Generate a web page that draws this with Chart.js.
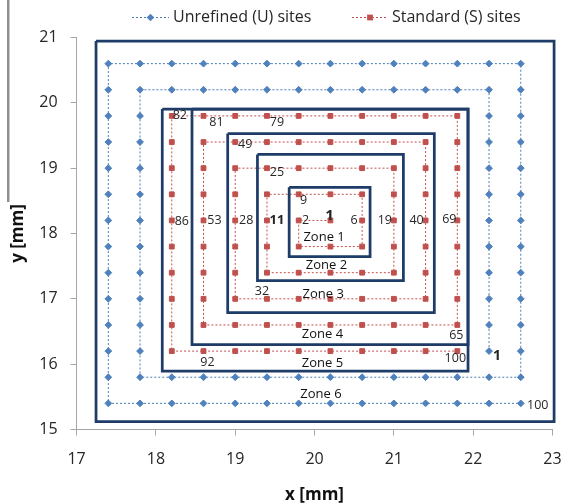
<!DOCTYPE html>
<html>
<head>
<meta charset="utf-8">
<script src="https://cdn.jsdelivr.net/npm/chart.js@4.4.1/dist/chart.umd.min.js"></script>
<style>
  html, body { margin: 0; padding: 0; background: #fff; }
  #c { display: block; }
</style>
</head>
<body>
<canvas id="c" width="563" height="504"></canvas>
<script>
// Standard (S) sites, numbered 1..100 outward along the spiral [mm]
const sX = [
  20.2, 19.8, 19.8, 20.2, 20.6, 20.6, 20.6, 20.2, 19.8, 19.4,
  19.4, 19.4, 19.4, 19.8, 20.2, 20.6, 21.0, 21.0, 21.0, 21.0,
  21.0, 20.6, 20.2, 19.8, 19.4, 19.0, 19.0, 19.0, 19.0, 19.0,
  19.0, 19.4, 19.8, 20.2, 20.6, 21.0, 21.4, 21.4, 21.4, 21.4,
  21.4, 21.4, 21.4, 21.0, 20.6, 20.2, 19.8, 19.4, 19.0, 18.6,
  18.6, 18.6, 18.6, 18.6, 18.6, 18.6, 18.6, 19.0, 19.4, 19.8,
  20.2, 20.6, 21.0, 21.4, 21.8, 21.8, 21.8, 21.8, 21.8, 21.8,
  21.8, 21.8, 21.8, 21.4, 21.0, 20.6, 20.2, 19.8, 19.4, 19.0,
  18.6, 18.2, 18.2, 18.2, 18.2, 18.2, 18.2, 18.2, 18.2, 18.2,
  18.2, 18.6, 19.0, 19.4, 19.8, 20.2, 20.6, 21.0, 21.4, 21.8
];
const sY = [
  18.2, 18.2, 17.8, 17.8, 17.8, 18.2, 18.6, 18.6, 18.6, 18.6,
  18.2, 17.8, 17.4, 17.4, 17.4, 17.4, 17.4, 17.8, 18.2, 18.6,
  19.0, 19.0, 19.0, 19.0, 19.0, 19.0, 18.6, 18.2, 17.8, 17.4,
  17.0, 17.0, 17.0, 17.0, 17.0, 17.0, 17.0, 17.4, 17.8, 18.2,
  18.6, 19.0, 19.4, 19.4, 19.4, 19.4, 19.4, 19.4, 19.4, 19.4,
  19.0, 18.6, 18.2, 17.8, 17.4, 17.0, 16.6, 16.6, 16.6, 16.6,
  16.6, 16.6, 16.6, 16.6, 16.6, 17.0, 17.4, 17.8, 18.2, 18.6,
  19.0, 19.4, 19.8, 19.8, 19.8, 19.8, 19.8, 19.8, 19.8, 19.8,
  19.8, 19.8, 19.4, 19.0, 18.6, 18.2, 17.8, 17.4, 17.0, 16.6,
  16.2, 16.2, 16.2, 16.2, 16.2, 16.2, 16.2, 16.2, 16.2, 16.2
];

// Unrefined (U) sites on the two outer rings [mm]
const uX = [
  22.2, 22.2, 22.2, 22.2, 22.2, 22.2, 22.2, 22.2, 22.2, 22.2, 22.2,
  21.8, 21.4, 21.0, 20.6, 20.2, 19.8, 19.4, 19.0, 18.6, 18.2, 17.8,
  17.8, 17.8, 17.8, 17.8, 17.8, 17.8, 17.8, 17.8, 17.8, 17.8, 17.8,
  18.2, 18.6, 19.0, 19.4, 19.8, 20.2, 20.6, 21.0, 21.4, 21.8, 22.2,
  22.6,
  22.6, 22.6, 22.6, 22.6, 22.6, 22.6, 22.6, 22.6, 22.6, 22.6, 22.6, 22.6,
  22.2, 21.8, 21.4, 21.0, 20.6, 20.2, 19.8, 19.4, 19.0, 18.6, 18.2, 17.8, 17.4,
  17.4, 17.4, 17.4, 17.4, 17.4, 17.4, 17.4, 17.4, 17.4, 17.4, 17.4, 17.4, 17.4,
  17.8, 18.2, 18.6, 19.0, 19.4, 19.8, 20.2, 20.6, 21.0, 21.4, 21.8, 22.2, 22.6
];
const uY = [
  16.2, 16.6, 17.0, 17.4, 17.8, 18.2, 18.6, 19.0, 19.4, 19.8, 20.2,
  20.2, 20.2, 20.2, 20.2, 20.2, 20.2, 20.2, 20.2, 20.2, 20.2, 20.2,
  19.8, 19.4, 19.0, 18.6, 18.2, 17.8, 17.4, 17.0, 16.6, 16.2, 15.8,
  15.8, 15.8, 15.8, 15.8, 15.8, 15.8, 15.8, 15.8, 15.8, 15.8, 15.8,
  15.8,
  16.2, 16.6, 17.0, 17.4, 17.8, 18.2, 18.6, 19.0, 19.4, 19.8, 20.2, 20.6,
  20.6, 20.6, 20.6, 20.6, 20.6, 20.6, 20.6, 20.6, 20.6, 20.6, 20.6, 20.6, 20.6,
  20.2, 19.8, 19.4, 19.0, 18.6, 18.2, 17.8, 17.4, 17.0, 16.6, 16.2, 15.8, 15.4,
  15.4, 15.4, 15.4, 15.4, 15.4, 15.4, 15.4, 15.4, 15.4, 15.4, 15.4, 15.4, 15.4
];

// axis ticks [mm]
const xTicks = [17, 18, 19, 20, 21, 22, 23];
const yTicks = [15, 16, 17, 18, 19, 20, 21];

// zone outlines [mm]
const zoneNames  = ['Zone 1', 'Zone 2', 'Zone 3', 'Zone 4', 'Zone 5', 'Zone 6'];
const zoneLeft   = [19.68, 19.28, 18.905, 18.455, 18.08, 17.245];
const zoneRight  = [20.70, 21.12, 21.51, 21.935, 21.935, 23.02];
const zoneBottom = [17.645, 17.28, 16.79, 16.30, 15.895, 15.12];
const zoneTop    = [18.707, 19.21, 19.53, 19.905, 19.905, 20.946];
const zoneLabelX = [20.12, 20.15, 20.11, 20.10, 20.10, 20.08];
const zoneLabelY = [17.94, 17.51, 17.07, 16.46, 16.02, 15.54];

// numbered sites (index into the site arrays)
const sLabelIdx  = [0, 1, 5, 8, 10, 18, 24, 27, 31, 39, 48, 52, 64, 68, 78, 80, 81, 85, 91, 99];
const sLabelText = ['1', '2', '6', '9', '11', '19', '25', '28', '32', '40', '49', '53', '65', '69', '79', '81', '82', '86', '92', '100'];
const uLabelIdx  = [0, 95];
const uLabelText = ['1', '100'];

// ---- styling ----
const FONT = "'Open Sans', 'Noto Sans', sans-serif";
const BLUE = '#4F81BD', BLUE_LINE = '#4A7EBB';
const RED = '#C0504D', RED_LINE = '#C0504D';
const NAVY = '#1F3C69';
const AXIS = '#A6A6A6';

// label placement: pixel offset from the site, font size, weight
const sLabelStyle = {
  '1':  [-1, -5, 15, 'bold'], '2': [7, 0, 12.5, 'normal'], '6': [-8, 0, 12.5, 'normal'],
  '9':  [5, 6, 12.5, 'normal'], '11': [10, 0, 13, 'bold'], '19': [-9, 0, 12.5, 'normal'],
  '25': [10, 4, 12.5, 'normal'], '28': [11, 0, 12.5, 'normal'], '32': [-5, -7, 12.5, 'normal'],
  '40': [-9, 0, 12.5, 'normal'], '49': [10, 2, 12.5, 'normal'], '53': [11, 0, 12.5, 'normal'],
  '65': [-1, 10, 12.5, 'normal'], '69': [-8, -1, 12.5, 'normal'], '79': [10, 7, 12.5, 'normal'],
  '81': [13, 7, 12.5, 'normal'], '82': [8, 0, 12.5, 'normal'], '86': [10, 1, 12.5, 'normal'],
  '92': [4, 11, 12.5, 'normal'], '100': [-2, 7, 12.5, 'normal']
};
const uLabelStyle = { '1': [8, 5, 14, 'bold'], '100': [17, 2, 12.5, 'normal'] };

const pts = (xs, ys) => xs.map((x, i) => ({ x: x, y: ys[i] }));

const zoneSets = zoneNames.map((name, k) => ({
  label: name,
  data: [
    { x: zoneLeft[k],  y: zoneTop[k] },
    { x: zoneRight[k], y: zoneTop[k] },
    { x: zoneRight[k], y: zoneBottom[k] },
    { x: zoneLeft[k],  y: zoneBottom[k] },
    { x: zoneLeft[k],  y: zoneTop[k] }
  ],
  showLine: true,
  borderColor: NAVY,
  borderWidth: 2.75,
  borderJoinStyle: 'miter',
  pointRadius: 0,
  clip: false
}));

const siteLabels = {
  id: 'siteLabels',
  afterDatasetsDraw(chart) {
    const { ctx, scales: { x, y } } = chart;
    ctx.save();
    ctx.textAlign = 'center';
    ctx.textBaseline = 'middle';
    const put = (xs, ys, idx, txt, style) => {
      idx.forEach((i, n) => {
        const st = style[txt[n]];
        ctx.font = st[3] + ' ' + st[2] + 'px ' + FONT;
        ctx.fillStyle = '#262626';
        ctx.fillText(txt[n], x.getPixelForValue(xs[i]) + st[0], y.getPixelForValue(ys[i]) + st[1]);
      });
    };
    put(sX, sY, sLabelIdx, sLabelText, sLabelStyle);
    put(uX, uY, uLabelIdx, uLabelText, uLabelStyle);
    // zone names
    ctx.font = '13px ' + FONT;
    ctx.fillStyle = '#111';
    zoneNames.forEach((name, k) => {
      ctx.fillText(name, x.getPixelForValue(zoneLabelX[k]), y.getPixelForValue(zoneLabelY[k]));
    });
    ctx.restore();
  }
};

// legend above the plot: dotted sample line with its marker, then the series name
const legendRow = {
  id: 'legendRow',
  afterDraw(chart) {
    const ctx = chart.ctx;
    const items = [
      { x0: 132, x1: 169, text: 'Unrefined (U) sites', line: BLUE_LINE, fill: BLUE, shape: 'diamond' },
      { x0: 352, x1: 388, text: 'Standard (S) sites', line: RED_LINE, fill: RED, shape: 'square' }
    ];
    const yc = 17.5;
    ctx.save();
    items.forEach(it => {
      ctx.strokeStyle = it.line;
      ctx.lineWidth = 1;
      ctx.setLineDash([2, 2]);
      ctx.beginPath();
      ctx.moveTo(it.x0, yc);
      ctx.lineTo(it.x1, yc);
      ctx.stroke();
      ctx.setLineDash([]);
      const cx = (it.x0 + it.x1) / 2;
      ctx.fillStyle = it.fill;
      ctx.beginPath();
      if (it.shape === 'diamond') {
        ctx.moveTo(cx - 3.8, yc); ctx.lineTo(cx, yc - 3.8);
        ctx.lineTo(cx + 3.8, yc); ctx.lineTo(cx, yc + 3.8);
        ctx.closePath();
      } else {
        ctx.rect(cx - 2.9, yc - 2.9, 5.8, 5.8);
      }
      ctx.fill();
      ctx.font = '16px ' + FONT;
      ctx.fillStyle = '#262626';
      ctx.textAlign = 'left';
      ctx.textBaseline = 'middle';
      ctx.fillText(it.text, it.x1 + 4, yc);
    });
    // left rule beside the y axis title
    ctx.fillStyle = '#8F8F8F';
    ctx.fillRect(7, 0, 2.5, 202);
    ctx.restore();
  }
};

new Chart(document.getElementById('c'), {
  type: 'scatter',
  data: {
    datasets: zoneSets.concat([
      {
        label: 'Unrefined (U) sites',
        data: pts(uX, uY),
        showLine: true,
        borderColor: BLUE_LINE,
        borderWidth: 1,
        borderDash: [2, 2],
        pointStyle: 'rectRot',
        pointRadius: 3.4,
        pointBackgroundColor: BLUE,
        pointBorderColor: BLUE,
        pointBorderWidth: 1
      },
      {
        label: 'Standard (S) sites',
        data: pts(sX, sY),
        showLine: true,
        borderColor: RED_LINE,
        borderWidth: 1,
        borderDash: [2, 2],
        pointStyle: 'rect',
        pointRadius: 3.4,
        pointBackgroundColor: RED,
        pointBorderColor: RED,
        pointBorderWidth: 1
      }
    ])
  },
  options: {
    responsive: false,
    animation: false,
    devicePixelRatio: 1,
    layout: { padding: { left: 0, right: 10.5, top: 37.5, bottom: 0 } },
    plugins: { legend: { display: false }, tooltip: { enabled: false } },
    scales: {
      x: {
        type: 'linear',
        min: 17, max: 23,
        afterBuildTicks: s => { s.ticks = xTicks.map(v => ({ value: v })); },
        afterFit: s => { s.height = 74.5; s.paddingLeft = 0; s.paddingRight = 0; },
        grid: { drawOnChartArea: false, drawTicks: true, tickLength: 6, color: AXIS },
        border: { display: true, color: AXIS, width: 1 },
        ticks: { padding: 14, color: '#262626', font: { family: FONT, size: 16 } },
        title: {
          display: true, text: 'x [mm]', color: '#111',
          font: { family: FONT, size: 17, weight: 'bold', lineHeight: 1 },
          padding: { top: 0, bottom: 0 }
        }
      },
      y: {
        type: 'linear',
        min: 15, max: 21,
        afterBuildTicks: s => { s.ticks = yTicks.map(v => ({ value: v })); },
        afterFit: s => { s.width = 76.6; s.paddingTop = 0; s.paddingBottom = 0; },
        grid: { drawOnChartArea: false, drawTicks: true, tickLength: 6, color: AXIS },
        border: { display: true, color: AXIS, width: 1 },
        ticks: { padding: 13, color: '#262626', font: { family: FONT, size: 16 } },
        title: {
          display: true, text: 'y [mm]', color: '#111',
          font: { family: FONT, size: 17, weight: 'bold', lineHeight: 1 },
          padding: { top: 10, bottom: 0 }
        }
      }
    }
  },
  plugins: [siteLabels, legendRow]
});
</script>
</body>
</html>
